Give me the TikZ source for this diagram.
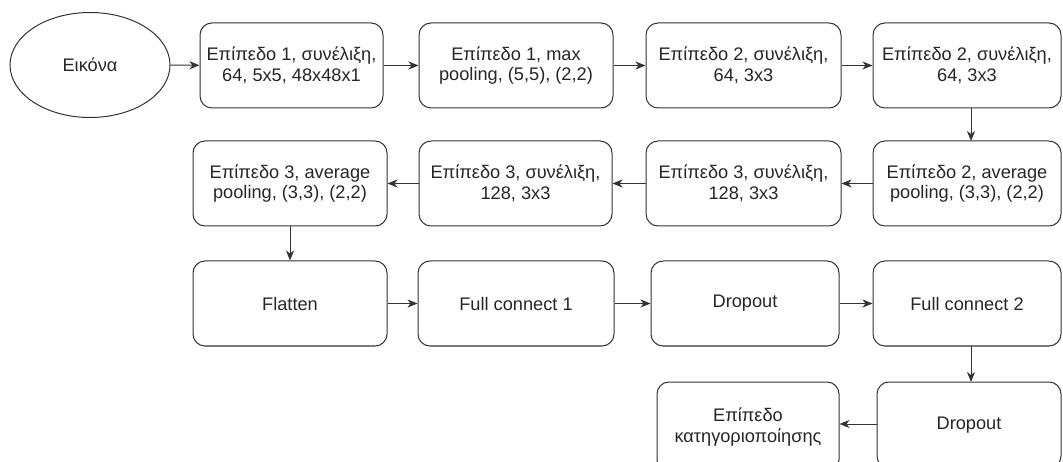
\documentclass[tikz,border=0pt]{standalone}
\usepackage{fontspec}
\setmainfont{Liberation Sans}
\usetikzlibrary{arrows.meta,shapes.geometric}
\begin{document}
\begin{tikzpicture}[x=1pt,y=-1pt,
  box/.style={draw=black!80, line width=1pt, rounded corners=12pt, align=center,
    inner sep=0pt, font=\fontsize{18.2}{20.5}\selectfont, text=black!85},
  conn/.style={draw=black!80, line width=1pt, -{Stealth[length=10pt,width=8pt,inset=3pt]}}]
\useasboundingbox (0,0) rectangle (1063,462);
\clip (0,0) rectangle (1063,462);
% ellipse
\node[draw=black!80, line width=1pt, ellipse, minimum width=160pt, minimum height=105pt, inner sep=0pt,
  font=\fontsize{18.2}{20.5}\selectfont, text=black!85] (img) at (90,65) {Εικόνα};
% row 1
\node[box, minimum width=183pt, minimum height=85pt] (a1) at (291.5,65.5) {Επίπεδο 1, συνέλιξη,\\64, 5x5, 48x48x1};
\node[box, minimum width=194pt, minimum height=85pt] (a2) at (516,65.5) {Επίπεδο 1, max\\pooling, (5,5), (2,2)};
\node[box, minimum width=195pt, minimum height=85pt] (a3) at (743.5,65.5) {Επίπεδο 2, συνέλιξη,\\64, 3x3};
\node[box, minimum width=188pt, minimum height=85pt] (a4) at (967,65.5) {Επίπεδο 2, συνέλιξη,\\64, 3x3};
% row 2
\node[box, minimum width=194pt, minimum height=85pt] (b1) at (290,183.5) {Επίπεδο 3, average\\pooling, (3,3), (2,2)};
\node[box, minimum width=193pt, minimum height=85pt] (b2) at (515.5,183.5) {Επίπεδο 3, συνέλιξη,\\128, 3x3};
\node[box, minimum width=195pt, minimum height=85pt] (b3) at (743.5,183.5) {Επίπεδο 3, συνέλιξη,\\128, 3x3};
\node[box, minimum width=188pt, minimum height=85pt] (b4) at (967,183.5) {Επίπεδο 2, average\\pooling, (3,3), (2,2)};
% row 3
\node[box, minimum width=194pt, minimum height=85pt] (c1) at (290,303.5) {Flatten};
\node[box, minimum width=196pt, minimum height=85pt] (c2) at (516,303.5) {Full connect 1};
\node[box, minimum width=188pt, minimum height=85pt] (c3) at (745,303.5) {Dropout};
\node[box, minimum width=188pt, minimum height=85pt] (c4) at (967,303.5) {Full connect 2};
% row 4
\node[box, minimum width=182pt, minimum height=90pt] (d1) at (748,427) {Επίπεδο\\κατηγοριοποίησης};
\node[box, minimum width=184pt, minimum height=86pt] (d2) at (969,425) {Dropout};
% connectors
\draw[conn] (img) -- (a1);
\draw[conn] (a1) -- (a2);
\draw[conn] (a2) -- (a3);
\draw[conn] (a3) -- (a4);
\coordinate (p1) at (971,108);
\coordinate (p2) at (971,141);
\draw[conn] (p1) -- (p2);
\draw[conn] (b4) -- (b3);
\draw[conn] (b3) -- (b2);
\draw[conn] (b2) -- (b1);
\draw[conn] (b1) -- (c1);
\draw[conn] (c1) -- (c2);
\draw[conn] (c2) -- (c3);
\draw[conn] (c3) -- (c4);
\coordinate (p3) at (971,346);
\coordinate (p4) at (971,382);
\draw[conn] (p3) -- (p4);
\draw[conn] (d2.west |- 0,424) -- (d1.east |- 0,424);
\end{tikzpicture}
\end{document}
